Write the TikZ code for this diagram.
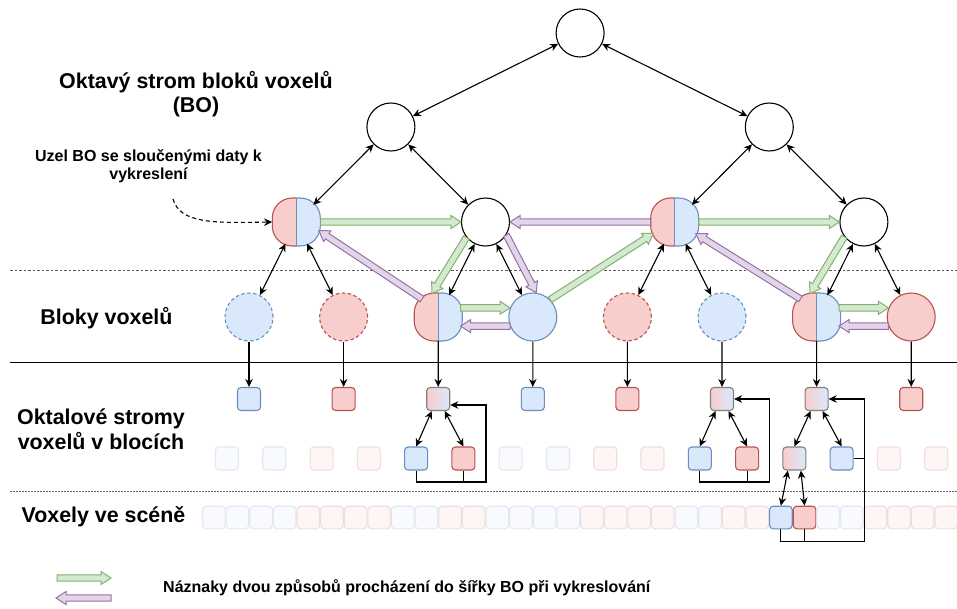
\documentclass[tikz,border=0pt]{standalone}
\usepackage{fontspec}
\setmainfont{Liberation Sans}
\usetikzlibrary{arrows.meta,calc}

\definecolor{bfill}{HTML}{DAE8FC}
\definecolor{bline}{HTML}{6C8EBF}
\definecolor{rfill}{HTML}{F8CECC}
\definecolor{rline}{HTML}{B85450}
\definecolor{mixline}{HTML}{808080}
\definecolor{gfill}{HTML}{D5E8D4}
\definecolor{gline}{HTML}{82B366}
\definecolor{pfill}{HTML}{E1D5E7}
\definecolor{pline}{HTML}{9673A6}

\tikzset{
  ln/.style={line width=1.1pt, draw=black},
  wnode/.style={circle, draw=black, line width=1.1pt, fill=white, minimum size=48pt, inner sep=0pt},
  bnode/.style={wnode, draw=bline, fill=bfill},
  rnode/.style={wnode, draw=rline, fill=rfill},
  ghost/.style={dash pattern=on 3.5pt off 2.5pt},
  mixnode/.style={circle, minimum size=48pt, inner sep=0pt},
  halfred/.style={draw=rline, fill=rfill, line width=1.1pt, rounded corners=20pt},
  halfblue/.style={draw=bline, fill=bfill, line width=1.1pt, rounded corners=20pt},
  vbox/.style={rectangle, rounded corners=3.5pt, minimum size=23pt, inner sep=0pt, line width=1.1pt},
  bbox/.style={vbox, draw=bline, fill=bfill},
  rbox/.style={vbox, draw=rline, fill=rfill},
  gbox/.style={vbox, draw=mixline, left color=rfill, right color=bfill},
  fbbox/.style={vbox, draw=bline!20!white, fill=bfill!20!white},
  frbox/.style={vbox, draw=rline!20!white, fill=rfill!20!white},
  cell/.style={minimum size=22.6pt},
  greenflow/.style={draw=gline, fill=gfill, line width=1pt},
  purpleflow/.style={draw=pline, fill=pfill, line width=1pt},
  biglbl/.style={font=\bfseries\fontsize{21.4}{24.5}\selectfont, align=center, inner sep=0pt},
  smalllbl/.style={font=\bfseries\fontsize{16}{18.4}\selectfont, align=center, inner sep=0pt},
  sepdash/.style={draw=black!65, line width=0.8pt, dash pattern=on 2.5pt off 2pt},
  sepsolid/.style={draw=black, line width=1pt},
  sepdot/.style={draw=black!60, line width=0.8pt, dash pattern=on 1.5pt off 1.5pt},
}

% two-coloured BO node: red left half, blue right half
\newcommand\splitnode[3]{%
  \begin{scope}
    \clip ({#2-30},{#3-30}) rectangle (#2,{#3+30});
    \draw[halfred] ({#2-24},{#3-24}) rectangle ({#2+24},{#3+24});
  \end{scope}
  \begin{scope}
    \clip (#2,{#3-30}) rectangle ({#2+30},{#3+30});
    \draw[halfblue] ({#2-24},{#3-24}) rectangle ({#2+24},{#3+24});
  \end{scope}
  \draw[bline, line width=1.1pt] (#2,{#3-24}) -- (#2,{#3+24});
  \node[mixnode] (#1) at (#2,#3) {};
}

% wide hollow traversal arrow from #2 to #3
\newcommand\flowarrow[3]{%
  \coordinate (fs) at #2;
  \coordinate (fe) at #3;
  \coordinate (fc) at ($(fe)!10pt!(fs)$);
  \draw[#1] ($(fs)!3.2pt!90:(fe)$) -- ($(fc)!3.2pt!-90:(fs)$) -- ($(fc)!6.5pt!-90:(fs)$)
    -- (fe) -- ($(fc)!6.5pt!90:(fs)$) -- ($(fc)!3.2pt!90:(fs)$) -- ($(fs)!3.2pt!-90:(fe)$) -- cycle;
}

\begin{document}
\begin{tikzpicture}[x=1pt, y=-1pt, >={Stealth[length=8pt,width=7.5pt]}]
\useasboundingbox (0,0) rectangle (957,608);
\fill[white] (0,0) rectangle (957,608);

% row separators
\draw[sepdash] (10,270) -- (957,270);
\draw[sepsolid] (10,362) -- (957,362);
\draw[sepdot] (10,491.5) -- (957,491.5);

% labels
\node[biglbl] (lblBO) at (196,94) {Oktavý strom bloků voxelů\\(BO)};
\node[smalllbl] (lblMix) at (148.5,166) {Uzel BO se sloučenými daty k\\vykreslení};
\node[biglbl] (lblBlk) at (106.5,318) {Bloky voxelů};
\node[biglbl] (lblVo) at (101,429) {Oktalové stromy\\voxelů v blocích};
\node[biglbl] (lblSc) at (103.5,517) {Voxely ve scéně};

% block octree
\node[wnode] (root) at (580.1,33) {};
\node[wnode] (s0) at (390.9,127) {};
\node[wnode] (s1) at (769.3,127) {};
\splitnode{t0}{296.3}{222}
\node[wnode] (t1) at (485.5,222) {};
\splitnode{t2}{674.7}{222}
\node[wnode] (t3) at (863.9,222) {};

% voxel blocks
\node[bnode, ghost] (n0) at (249,317) {};
\node[rnode, ghost] (n1) at (343.6,317) {};
\splitnode{n2}{438.2}{317}
\node[bnode] (n3) at (532.8,317) {};
\node[rnode, ghost] (n4) at (627.4,317) {};
\node[bnode, ghost] (n5) at (722,317) {};
\splitnode{n6}{816.6}{317}
\node[rnode] (n7) at (911.2,317) {};

% roots of the voxel octrees
\foreach \i/\s in {0/bbox,1/rbox,2/gbox,3/bbox,4/rbox,5/gbox,6/gbox,7/rbox}
  \node[\s] (b\i) at ({249+94.6*\i},399) {};

% second level of the voxel octrees
\foreach \j/\s in {0/fbbox,1/fbbox,2/frbox,3/frbox,4/bbox,5/rbox,6/fbbox,7/fbbox,
                   8/frbox,9/frbox,10/bbox,11/rbox,12/gbox,13/bbox,14/frbox,15/frbox}
  \node[\s] (c\j) at ({227+47.28*\j},458.5) {};

% voxels in the scene
\foreach \k/\s in {0/fbbox,1/fbbox,2/fbbox,3/fbbox,4/frbox,5/frbox,6/frbox,7/frbox,
                   8/fbbox,9/fbbox,10/frbox,11/frbox,12/fbbox,13/fbbox,14/fbbox,15/fbbox,
                   16/frbox,17/frbox,18/frbox,19/frbox,20/fbbox,21/fbbox,22/frbox,23/frbox,
                   24/bbox,25/rbox,26/fbbox,27/fbbox,28/frbox,29/frbox,30/frbox,31/frbox}
  \node[\s, cell] (v\k) at ({213.8+23.63*\k},517.5) {};

% breadth-first traversal hints
\flowarrow{greenflow}{(t0.east)}{(t1.west)}
\flowarrow{greenflow}{(t1.219)}{(n2.105)}
\flowarrow{greenflow}{(n2.22)}{(n3.158)}
\flowarrow{greenflow}{(n3.45)}{(t2.208)}
\flowarrow{greenflow}{(t2.east)}{(t3.west)}
\flowarrow{greenflow}{(t3.217)}{(n6.106)}
\flowarrow{greenflow}{(n6.22)}{(n7.158)}
\flowarrow{purpleflow}{(t2.west)}{(t1.east)}
\flowarrow{purpleflow}{(t1.-32)}{(n3.82)}
\flowarrow{purpleflow}{(n3.202)}{(n2.-22)}
\flowarrow{purpleflow}{(n2.132)}{(t0.-21)}
\flowarrow{purpleflow}{(n6.132)}{(t2.-29)}
\flowarrow{purpleflow}{(n7.202)}{(n6.-22)}

% tree edges
\foreach \a/\b in {root/s0,root/s1,s0/t0,s0/t1,s1/t2,s1/t3,
                   t0/n0,t0/n1,t1/n2,t1/n3,t2/n4,t2/n5,t3/n6,t3/n7}
  \draw[ln,<->] (\a) -- (\b);
\foreach \i in {0,...,7}
  \draw[ln,->] (n\i) -- (b\i);

% voxel octree edges
\draw[ln,<->] ($(b2.south)+(-6.5,0)$) -- (c4.north);
\draw[ln,<->] ($(b2.south)+(6.5,0)$) -- (c5.north);
\draw[ln,<->] ($(b5.south)+(-6.5,0)$) -- (c10.north);
\draw[ln,<->] ($(b5.south)+(6.5,0)$) -- (c11.north);
\draw[ln,<->] ($(b6.south)+(-6,0)$) -- (c12.north);
\draw[ln,<->] ($(b6.south)+(6,0)$) -- (c13.north);
\draw[ln,<->] ($(c12.south)+(-6.5,0)$) -- (v24.north);
\draw[ln,<->] ($(c12.south)+(6.5,0)$) -- (v25.north);

% merged data flowing back up
\coordinate (k2) at (486,482);
\draw[ln] (c4.south) |- (k2);
\draw[ln,->] (c5.south) |- (k2) |- ($(b2.east)+(0,6)$);
\coordinate (k5) at (769.3,482);
\draw[ln] (c10.south) |- (k5);
\draw[ln,->] (c11.south) |- (k5) |- (b5.east);
\coordinate (k6) at (864.3,541.7);
\draw[ln] (v24.south) |- (k6);
\draw[ln] (v25.south) -- (v25.south |- k6);
\draw[ln] (c13.east) -- (c13.east -| k6);
\draw[ln,->] (k6) |- (b6.east);

% pointer to a merged node
\coordinate (hint) at (173,199);
\draw[ln, dash pattern=on 4pt off 3pt, ->] (hint) .. controls (180,224) and (215,223) .. (t0.west);

% legend
\coordinate (lgA) at (57,578);
\coordinate (lgB) at (111,578);
\coordinate (lgC) at (111,598);
\coordinate (lgD) at (56,598);
\flowarrow{greenflow}{(lgA)}{(lgB)}
\flowarrow{purpleflow}{(lgC)}{(lgD)}
\node[smalllbl, anchor=west] (legend) at (163,588) {Náznaky dvou způsobů procházení do šířky BO při vykreslování};
\end{tikzpicture}
\end{document}
